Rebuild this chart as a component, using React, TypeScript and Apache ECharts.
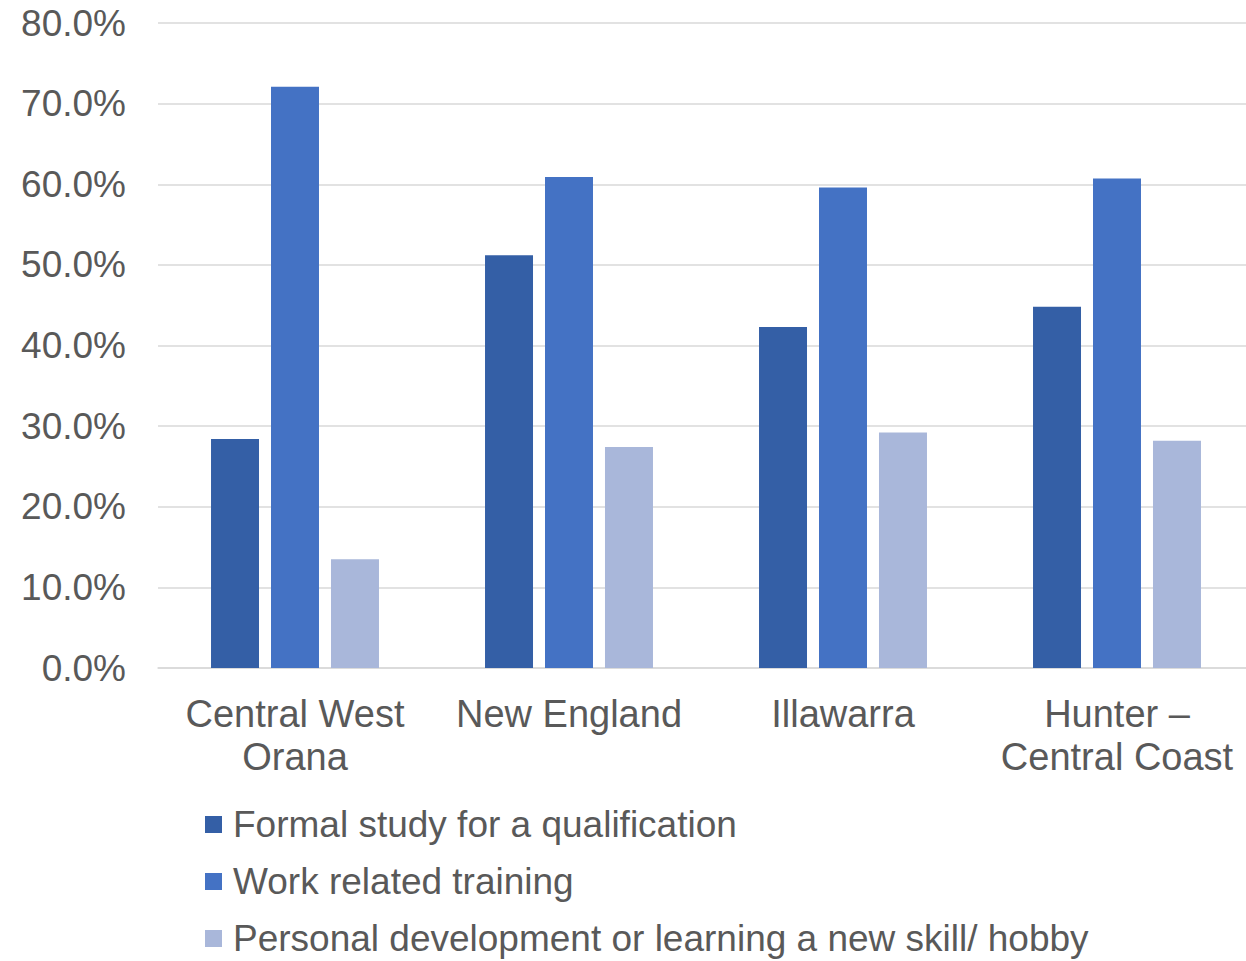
import React, { useEffect, useRef } from "react";
import * as echarts from "echarts";

const categories = ["Central West\nOrana", "New England", "Illawarra", "Hunter –\nCentral Coast"];
const seriesNames = [
  "Formal study for a qualification",
  "Work related training",
  "Personal development or learning a new skill/ hobby",
];
const formalStudy = [28.4, 51.2, 42.3, 44.8];
const workTraining = [72.1, 60.9, 59.6, 60.7];
const personalDev = [13.5, 27.4, 29.2, 28.2];
const colors = ["#345FA6", "#4472C4", "#A9B7DA"];
const legendCenters = [824, 881, 938];

export default function App() {
  const ref = useRef<HTMLDivElement>(null);
  useEffect(() => {
    if (!ref.current) return;
    const chart = echarts.init(ref.current, undefined, { renderer: "svg" });
    const font = "Liberation Sans, Arial, sans-serif";
    const values = [formalStudy, workTraining, personalDev];
    chart.setOption({
      animation: false,
      textStyle: { fontFamily: font },
      grid: {
        left: 158,
        width: 1096,
        top: 23,
        bottom: 293,
        containLabel: false,
        outerBoundsMode: "none",
      },
      legend: seriesNames.map((name, i) => ({
        orient: "vertical",
        left: 200,
        top: legendCenters[i] - 23,
        itemWidth: 17,
        itemHeight: 17,
        icon: "rect",
        textStyle: { fontSize: 37, color: "#595959", fontFamily: font, padding: [0, 0, 0, 6] },
        data: [name],
      })),
      xAxis: {
        type: "category",
        data: categories,
        axisLine: { lineStyle: { color: "#D9D9D9", width: 1.5 } },
        axisTick: { show: false },
        axisLabel: {
          fontSize: 38,
          color: "#595959",
          fontFamily: font,
          margin: 24,
          lineHeight: 43,
          interval: 0,
        },
      },
      yAxis: {
        type: "value",
        min: 0,
        max: 80,
        interval: 10,
        axisLine: { show: false },
        axisTick: { show: false },
        splitLine: { lineStyle: { color: "#D9D9D9", width: 1.5 } },
        axisLabel: {
          fontSize: 37,
          color: "#595959",
          fontFamily: font,
          margin: 32,
          formatter: (v: number) => v.toFixed(1) + "%",
        },
      },
      series: seriesNames.map((name, i) => ({
        name,
        type: "bar",
        data: values[i],
        barGap: "25%",
        barCategoryGap: "38.7%",
        itemStyle: { color: colors[i] },
      })),
    });
    return () => chart.dispose();
  }, []);
  return (
    <div
      ref={ref}
      style={{ position: "fixed", left: 0, top: 0, width: 1246, height: 961, background: "#fff" }}
    />
  );
}
